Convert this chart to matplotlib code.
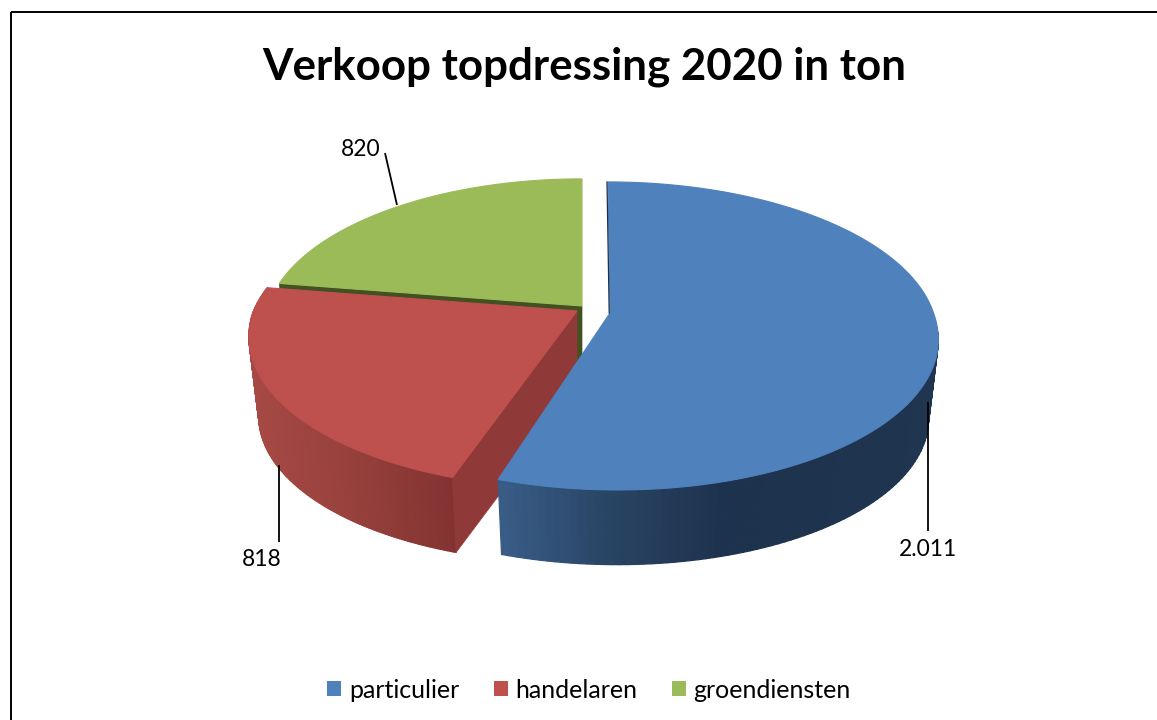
import numpy as np
import matplotlib
matplotlib.use("Agg")
import matplotlib.pyplot as plt
from matplotlib.collections import PolyCollection
from matplotlib.colors import to_rgb
from matplotlib.patches import Patch, Polygon, Rectangle

# ---- data ----
title = "Verkoop topdressing 2020 in ton"
categories = ["particulier", "handelaren", "groendiensten"]
values = [2011, 818, 820]
value_labels = ["2.011", "818", "820"]

# ---- style ----
top_colors = ["#4F81BD", "#BE504D", "#9BBB59"]
wall_colors = ["#1C3049", "#8F3A38", "#435021"]
side_stops = [
    [(497, "#3A5E8A"), (600, "#2A4666"), (720, "#1D324D"), (940, "#1F3550")],
    [(250, "#A84A46"), (350, "#98413D"), (457, "#823331")],
    [(270, "#6A8238"), (580, "#6A8238")],
]
apexes = [(610, 313), (577, 311), (582, 306)]
scales = [1.0, 1.0, 0.97]
# sideways lean of each slice towards the viewer (front) and away from it (back)
lean_front = [7.5, -6.0, 0.0]
lean_back = [2.0, -15.0, 0.0]
A, B, K = 323.5, 150.6, 0.149
DROP, BOTTOM_SCALE = 80.0, 0.97

plt.rcParams["font.family"] = ["Lato", "DejaVu Sans"]
fig = plt.figure(figsize=(11.57, 7.2), dpi=100)
ax = fig.add_axes([0, 0, 1, 1])
ax.set_xlim(0, 1157)
ax.set_ylim(720, 0)
ax.axis("off")

ax.add_patch(Rectangle((11, 12), 1400, 1000, fill=False, ec="black", lw=1.4, zorder=0))


def project(theta, i, bottom=False):
    """Perspective projection of a disc point; theta runs clockwise from the back."""
    apex, scale = apexes[i], scales[i]
    u = np.sin(theta)
    v = -np.cos(theta)
    w = 1 - K * v
    x = A * scale * u / w + np.where(v > 0, lean_front[i], lean_back[i]) * v
    y = B * scale * v / w
    if bottom:
        return apex[0] + BOTTOM_SCALE * x, apex[1] + DROP + BOTTOM_SCALE * y
    return apex[0] + x, apex[1] + y


def side_color(x, stops):
    xs = [s[0] for s in stops]
    cols = np.array([to_rgb(s[1]) for s in stops])
    return [float(np.interp(x, xs, cols[:, i])) for i in range(3)]


total = sum(values)
edges = np.concatenate([[0], np.cumsum(values)]) / total * 2 * np.pi

# Draw back to front: green, red, blue
for i in [2, 1, 0]:
    t0, t1 = edges[i], edges[i + 1]
    apex = apexes[i]
    base_z = 2 + 3 * (2 - i)
    th = np.linspace(t0, t1, 160)
    tx, ty = project(th, i)
    bx, by = project(th, i, bottom=True)

    # curved outer side, only where it faces the viewer
    quads, cols = [], []
    for j in range(len(th) - 1):
        if -np.cos(th[j]) < 0.12 and i != 1:
            continue
        quads.append([(tx[j], ty[j]), (tx[j + 1], ty[j + 1]), (bx[j + 1], by[j + 1]), (bx[j], by[j])])
        cols.append(side_color(0.5 * (bx[j] + bx[j + 1]), side_stops[i]))
    if quads:
        ax.add_collection(PolyCollection(quads, facecolors=cols, edgecolors=cols, linewidths=0.9, zorder=base_z))

    # flat cut wall at the start of the slice's sweep (the first slice's stays hidden)
    if i == 1:
        wall_t = t0
    elif i == 2:
        wall_t = t0
    else:
        wall_t = None
    if wall_t is not None:
        wt = project(wall_t, i)
        wb = project(wall_t, i, bottom=True)
        ab = (apex[0], apex[1] + DROP)
        ax.add_patch(Polygon([apex, wt, wb, ab], closed=True, fc=wall_colors[i], ec=wall_colors[i],
                             lw=0.5, zorder=base_z + 1))

    # top face
    verts = [apex] + list(zip(tx, ty))
    ax.add_patch(Polygon(verts, closed=True, fc=top_colors[i], ec=top_colors[i], lw=0.8, zorder=base_z + 2))

# thin dark edge of the first slice against the gap
ex, ey = project(edges[0], 0)
ax.plot([ex - 1.0, apexes[0][0] - 0.8], [ey, apexes[0][1]], color=wall_colors[0], lw=0.9, zorder=13)

# leader lines and value labels
FS = 16.5
leaders = [((928, 928), (402, 531)), ((279, 279), (465, 542)), ((385, 397), (153, 205))]
label_pos = [(928, 549.5), (262, 559.5), (361, 149.5)]
for (lx, ly), (px, py), txt in zip(leaders, label_pos, value_labels):
    ax.plot(lx, ly, color="black", lw=1.3, zorder=20, solid_capstyle="butt")
    ax.text(px, py, txt, ha="center", va="center", fontsize=FS, color="black", zorder=21)

ax.text(584, 67, title, ha="center", va="center", fontsize=31.6, fontweight="bold", color="black")

handles = [Patch(fc=c, ec="none", label=n) for c, n in zip(top_colors, categories)]
ax.legend(handles=handles, ncol=3, loc="center", bbox_to_anchor=(589, 690), bbox_transform=ax.transData,
          frameon=False, fontsize=18, handlelength=0.56, handleheight=0.56, handletextpad=0.32,
          columnspacing=1.36, borderpad=0, borderaxespad=0)

fig.savefig("out.png", dpi=100, facecolor="white")
